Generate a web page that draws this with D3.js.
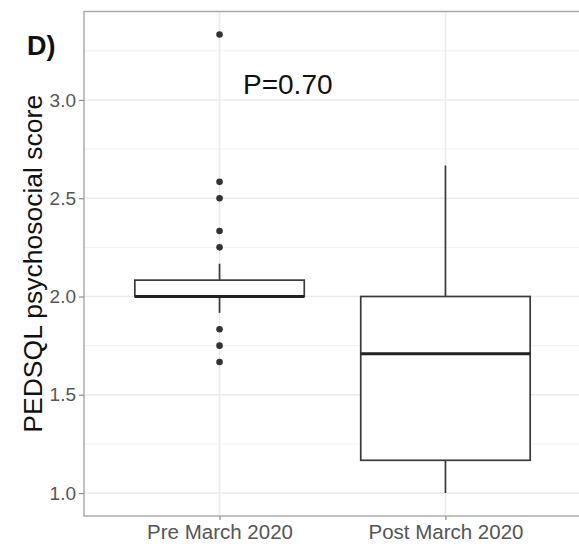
<!DOCTYPE html>
<html>
<head>
<meta charset="utf-8">
<script src="https://cdn.jsdelivr.net/npm/d3@7"></script>
<style>
  html, body { margin: 0; padding: 0; background: #fff; }
  svg { display: block; font-family: "Liberation Sans", Arial, Helvetica, sans-serif; }
</style>
</head>
<body>
<svg id="chart" width="579" height="546"></svg>
<script>
// ---- data ----
const categories = ["Pre March 2020", "Post March 2020"];
const whiskerLow  = [1.9167, 1.0];
const q1          = [2.0, 1.1667];
const median      = [2.0, 1.7083];
const q3          = [2.0833, 2.0];
const whiskerHigh = [2.1667, 2.6667];
const outliersPre  = [3.3333, 2.5833, 2.5, 2.3333, 2.25, 1.8333, 1.75, 1.6667];
const outliersPost = [];
const yTicks = [1.0, 1.5, 2.0, 2.5, 3.0];
const yMinor = [1.25, 1.75, 2.25, 2.75, 3.25];
const yTitle = "PEDSQL psychosocial score";
const annotation = "P=0.70";
const panelLabel = "D)";

// ---- layout ----
const svg = d3.select("#chart");
const panel = { left: 84, right: 581, top: 11.5, bottom: 516 };

const y = d3.scaleLinear().domain([0.8833, 3.45]).range([panel.bottom, panel.top]);
const x = d3.scalePoint().domain(categories).range([panel.left, panel.right]).padding(0.6);
const boxW = x.step() * 0.75;

const g = svg.append("g");

// panel background
g.append("rect").attr("x", panel.left).attr("y", panel.top)
  .attr("width", panel.right - panel.left).attr("height", panel.bottom - panel.top)
  .attr("fill", "#fff");

// minor grid
g.selectAll(".minor").data(yMinor).join("line")
  .attr("x1", panel.left).attr("x2", panel.right)
  .attr("y1", d => y(d)).attr("y2", d => y(d))
  .attr("stroke", "#f2f2f2").attr("stroke-width", 1);
// major grid
g.selectAll(".major").data(yTicks).join("line")
  .attr("x1", panel.left).attr("x2", panel.right)
  .attr("y1", d => y(d)).attr("y2", d => y(d))
  .attr("stroke", "#ebebeb").attr("stroke-width", 1.6);
g.selectAll(".vmajor").data(categories).join("line")
  .attr("x1", d => x(d)).attr("x2", d => x(d))
  .attr("y1", panel.top).attr("y2", panel.bottom)
  .attr("stroke", "#ebebeb").attr("stroke-width", 1.6);

// boxes
const stats = categories.map((c, i) => ({
  c, lo: whiskerLow[i], q1: q1[i], med: median[i], q3: q3[i], hi: whiskerHigh[i],
  out: i === 0 ? outliersPre : outliersPost
}));
const boxes = g.selectAll(".box").data(stats).join("g");
const stroke = "#3a3a3a";
boxes.append("line")
  .attr("x1", d => x(d.c)).attr("x2", d => x(d.c))
  .attr("y1", d => y(d.q3)).attr("y2", d => y(d.hi))
  .attr("stroke", stroke).attr("stroke-width", 1.7);
boxes.append("line")
  .attr("x1", d => x(d.c)).attr("x2", d => x(d.c))
  .attr("y1", d => y(d.q1)).attr("y2", d => y(d.lo))
  .attr("stroke", stroke).attr("stroke-width", 1.7);
boxes.append("rect")
  .attr("x", d => x(d.c) - boxW / 2).attr("width", boxW)
  .attr("y", d => y(d.q3)).attr("height", d => y(d.q1) - y(d.q3))
  .attr("fill", "#fff").attr("stroke", stroke).attr("stroke-width", 1.7);
boxes.append("line")
  .attr("x1", d => x(d.c) - boxW / 2).attr("x2", d => x(d.c) + boxW / 2)
  .attr("y1", d => y(d.med)).attr("y2", d => y(d.med))
  .attr("stroke", "#222").attr("stroke-width", 3);
boxes.selectAll("circle").data(d => d.out.map(v => ({ c: d.c, v }))).join("circle")
  .attr("cx", d => x(d.c)).attr("cy", d => y(d.v)).attr("r", 3.3)
  .attr("fill", "#333");

// panel border
g.append("rect").attr("x", panel.left).attr("y", panel.top)
  .attr("width", panel.right - panel.left).attr("height", panel.bottom - panel.top)
  .attr("fill", "none").attr("stroke", "#a6a6a6").attr("stroke-width", 1.4);

// y axis
const yAxis = g.append("g").attr("transform", `translate(${panel.left},0)`)
  .call(d3.axisLeft(y).tickValues(yTicks).tickFormat(d3.format(".1f")).tickSize(5).tickPadding(3));
yAxis.select(".domain").remove();
yAxis.selectAll(".tick line").attr("stroke", "#8c8c8c").attr("stroke-width", 1.2);
yAxis.selectAll(".tick text").attr("fill", "#555").attr("font-size", "19px")
  .attr("font-family", "'Liberation Sans', Arial, sans-serif");

// x axis
const xAxis = g.append("g").attr("transform", `translate(0,${panel.bottom})`)
  .call(d3.axisBottom(x).tickSize(4).tickPadding(4));
xAxis.select(".domain").remove();
xAxis.selectAll(".tick line").attr("stroke", "#8c8c8c").attr("stroke-width", 1.2);
xAxis.selectAll(".tick text").attr("fill", "#555").attr("font-size", "20.5px")
  .attr("font-family", "'Liberation Sans', Arial, sans-serif");

// y title
svg.append("text")
  .attr("transform", `translate(42,${(panel.top + panel.bottom) / 2}) rotate(-90)`)
  .attr("text-anchor", "middle").attr("font-size", "26.5px").attr("fill", "#111")
  .text(yTitle);

// annotation
svg.append("text").attr("x", 243).attr("y", 94)
  .attr("font-size", "28px").attr("fill", "#111").text(annotation);

// panel label
svg.append("text").attr("x", 27).attr("y", 55)
  .attr("font-size", "27px").attr("font-weight", "bold").attr("fill", "#111").text(panelLabel);
</script>
</body>
</html>
